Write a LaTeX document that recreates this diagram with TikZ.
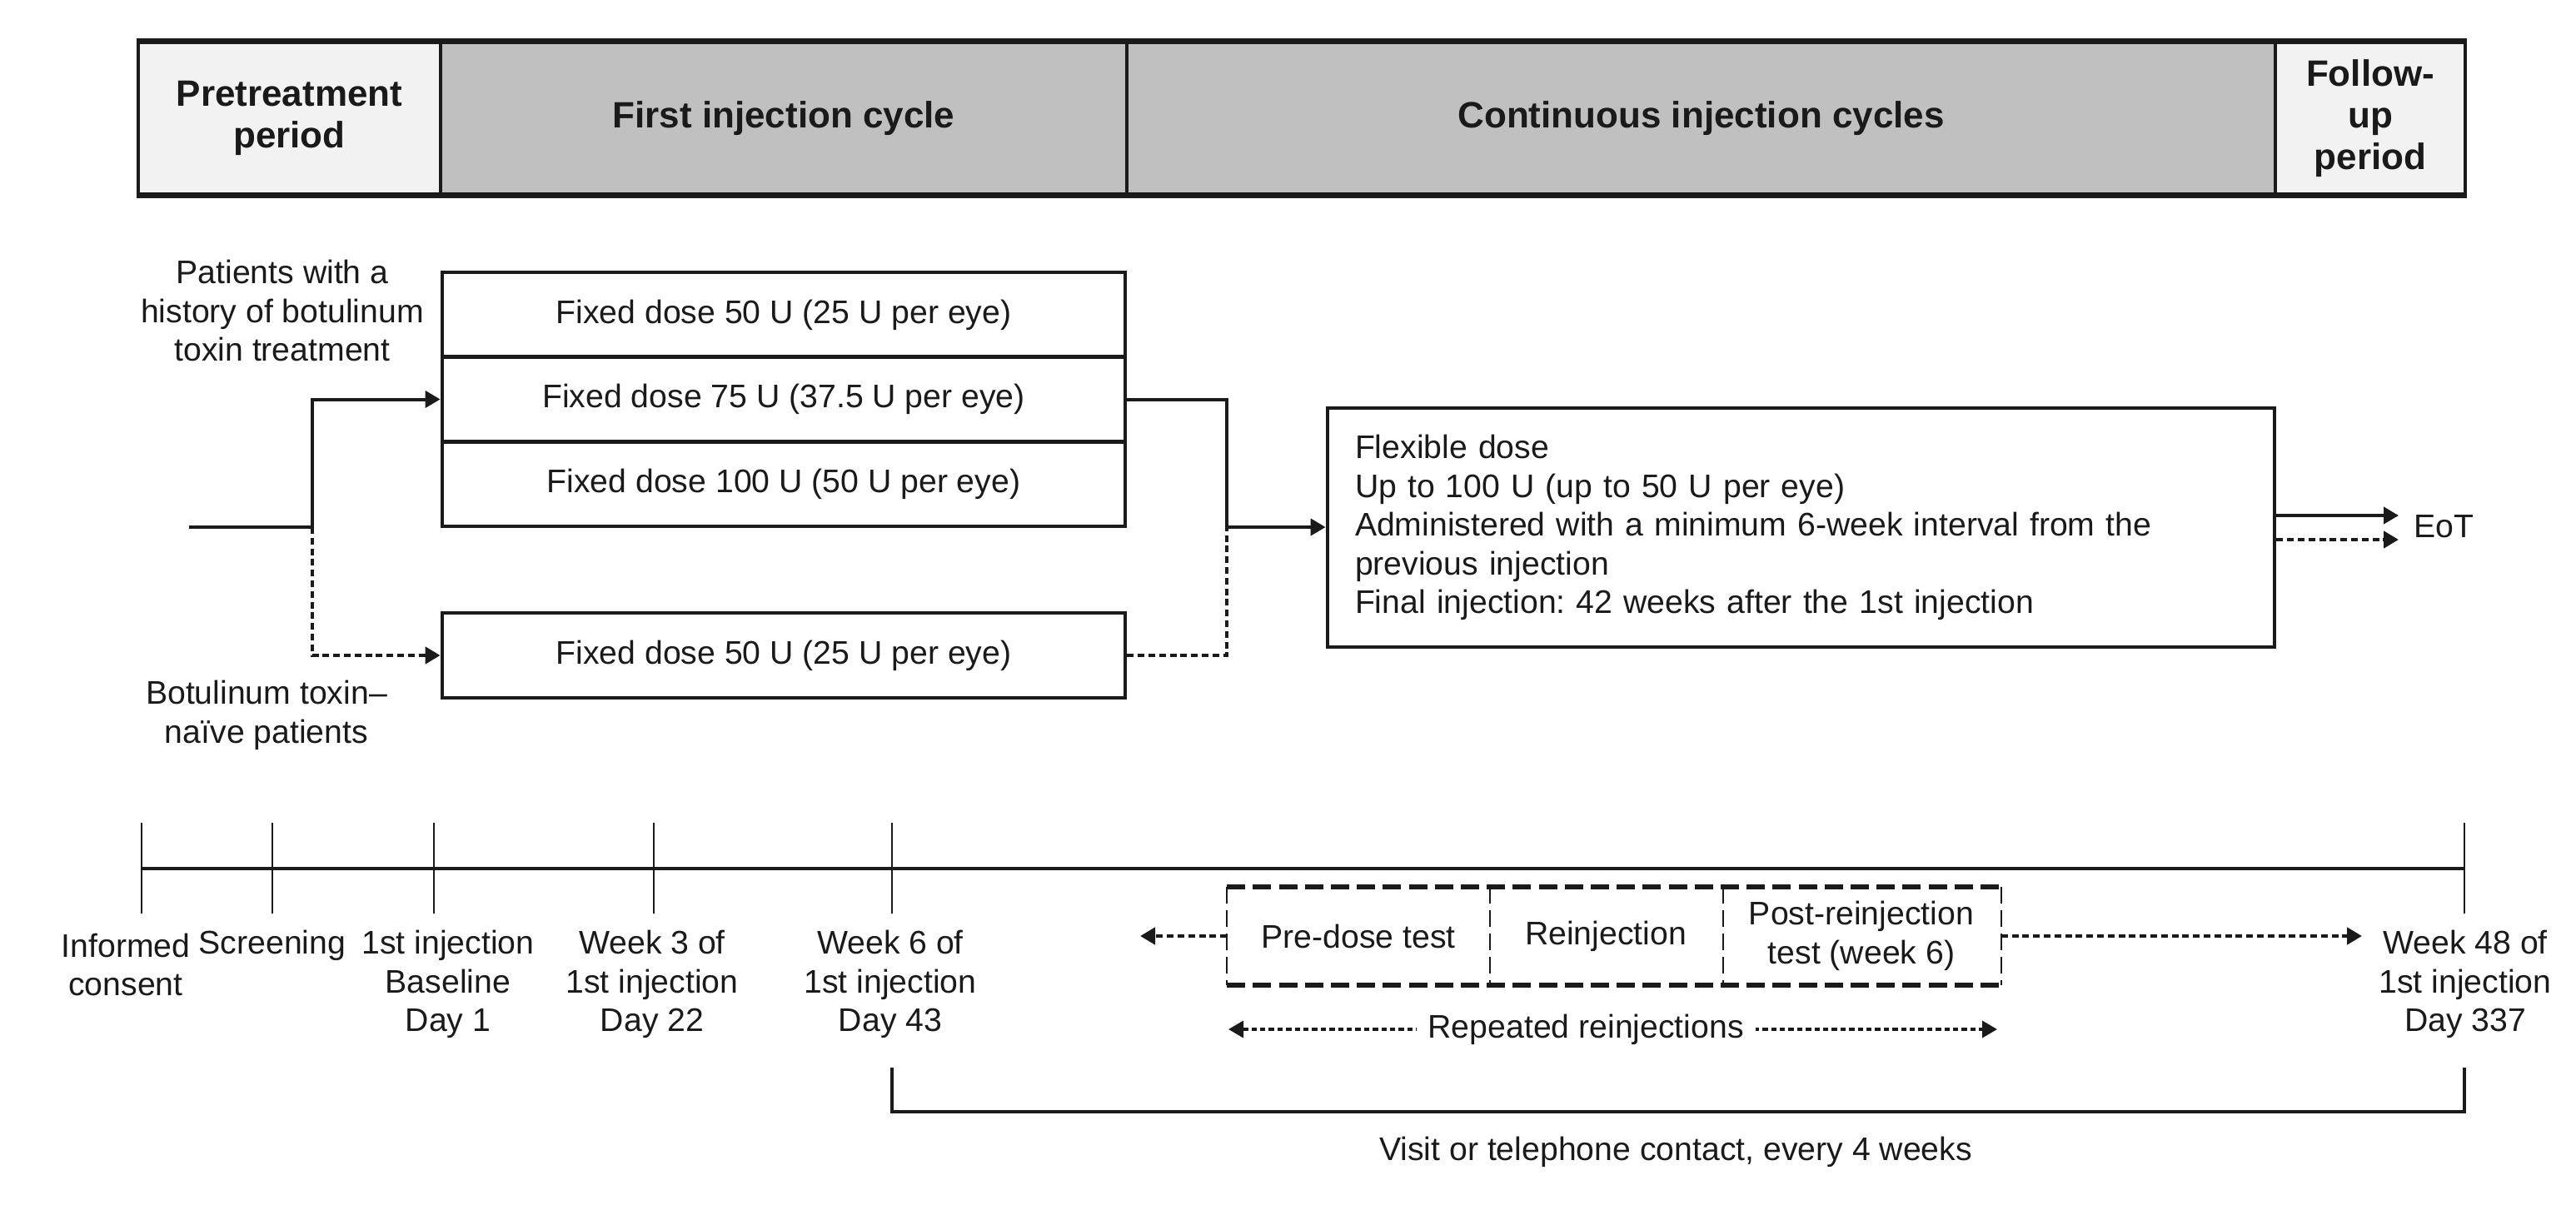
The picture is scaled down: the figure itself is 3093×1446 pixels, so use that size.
\documentclass[tikz,border=0pt]{standalone}
\usepackage{fontspec}
\setmainfont{Liberation Sans}
\usetikzlibrary{arrows.meta}
\definecolor{hdrlight}{HTML}{F2F2F2}
\definecolor{hdrdark}{HTML}{C0C0C0}
\definecolor{ink}{HTML}{1A1A1A}
\frenchspacing
\begin{document}
\begin{tikzpicture}[x=0.25pt,y=-0.25pt,
  font=\fontsize{9.8pt}{11.6pt}\selectfont, text=ink, draw=ink,
  tip/.style={-{Triangle[length=4.5pt,width=5pt]}},
  conn/.style={line width=1pt},
  dots/.style={line width=1.2pt,dash pattern=on 2pt off 1.2pt},
  fdots/.style={line width=0.9pt,dash pattern=on 1.6pt off 1pt},
  hdr/.style={draw,line width=0.8pt,minimum height=45.5pt,inner sep=0pt,
    font=\fontsize{11pt}{12.5pt}\selectfont\bfseries,align=center},
  dosebox/.style={draw,line width=1.2pt,minimum width=205pt,minimum height=25.5pt,inner sep=0pt},
  lbl/.style={align=center,inner sep=0pt},
  tick/.style={line width=0.6pt},
  dtop/.style={line width=1.5pt,dash pattern=on 5.5pt off 2.3pt},
  dside/.style={line width=0.6pt,dash pattern=on 5pt off 2pt},
  part/.style={minimum height=29pt,inner sep=0pt,align=center},
]
\path[use as bounding box] (0,0) rectangle (3093,1446);

% header
\node[hdr,fill=hdrlight,minimum width=90.75pt] (h1) at (347.5,142) {Pretreatment\\period};
\node[hdr,fill=hdrdark,minimum width=206pt] (h2) at (941,142) {First injection cycle};
\node[hdr,fill=hdrdark,minimum width=344.75pt] (h3) at (2042.5,142) {Continuous injection cycles};
\node[hdr,fill=hdrlight,minimum width=57pt] (h4) at (2846,142) {Follow-\\up\\period};
\draw[line width=1.6pt] (h1.north west) -- (h4.north east);
\draw[line width=1.6pt] (h1.south west) -- (h4.south east);

% dose boxes
\node[dosebox] (d1) at (941,378) {Fixed dose 50 U (25 U per eye)};
\node[dosebox] (d2) at (941,479.5) {Fixed dose 75 U (37.5 U per eye)};
\node[dosebox] (d3) at (941,581) {Fixed dose 100 U (50 U per eye)};
\node[dosebox] (d4) at (941,787) {Fixed dose 50 U (25 U per eye)};

\node[draw,line width=1.2pt,minimum width=284.25pt,minimum height=71.75pt,
  text width=267.75pt,align=left,inner sep=0pt] (flex) at (2162.5,633.5)
  {Flexible dose\\Up to 100 U (up to 50 U per eye)\\Administered with a minimum 6-week interval from the\\previous injection\\Final injection: 42 weeks after the 1st injection};

\node[lbl] (lhist) at (339,373) {Patients with a\\history of botulinum\\toxin treatment};
\node[lbl] (lnaive) at (320,859) {Botulinum toxin–\\naïve patients};

\coordinate (s) at (227,633);
\coordinate (b) at (375,633);
\coordinate (j) at (1473,633);
\draw[conn,tip] (s) -- (b) |- (d2.west);
\draw[dots,tip] (b) |- (d4.west);
\draw[conn,tip] (d2.east) -| (j) -- (flex.west |- j);
\draw[dots] (d4.east) -| (j);

\coordinate (e1) at (2880,619);
\coordinate (e2) at (2880,648);
\draw[conn,tip] (flex.east |- e1) -- (e1);
\draw[dots,tip] (flex.east |- e2) -- (e2);
\node[anchor=west,inner sep=0pt] (eot) at (2898,632) {EoT};

% timeline
\coordinate (t1) at (170,1043);
\coordinate (t2) at (327,1043);
\coordinate (t3) at (521,1043);
\coordinate (t4) at (785,1043);
\coordinate (t5) at (1071,1043);
\coordinate (t6) at (2959,1043);
\draw[line width=1.1pt] (t1) -- (t6);
\foreach \t in {t1,t2,t3,t4,t5,t6}
  \draw[tick] ([yshift=13.75pt]\t) -- ([yshift=-13.5pt]\t);

\node[lbl] (l1) at (151,1158.5) {Informed\\consent};
\node[lbl] (l2) at (327,1135) {Screening};
\node[lbl] (l3) at (538,1182) {1st injection\\Baseline\\Day 1};
\node[lbl] (l4) at (783,1182) {Week 3 of\\1st injection\\Day 22};
\node[lbl] (l5) at (1069,1182) {Week 6 of\\1st injection\\Day 43};
\node[lbl] (l6) at (2960,1182) {Week 48 of\\1st injection\\Day 337};

% dashed cycle box
\node[part,minimum width=78.5pt] (p1) at (1631,1124) {Pre-dose test};
\node[part,minimum width=70pt] (p2) at (1928,1124) {Reinjection};
\node[part,minimum width=83.5pt] (p3) at (2235,1124) {Post-reinjection\\test (week 6)};
\draw[dtop] (p1.north west) -- (p3.north east);
\draw[dtop] (p1.south west) -- (p3.south east);
\draw[dside] (p1.north west) -- (p1.south west);
\draw[dside] (p1.north east) -- (p1.south east);
\draw[dside] (p2.north east) -- (p2.south east);
\draw[dside] (p3.north east) -- (p3.south east);

\coordinate (la) at (1369,1124);
\coordinate (ra) at (2836,1124);
\draw[dots,tip] (p1.west) -- (la);
\draw[dots,tip] (p3.east) -- (ra);

\coordinate (r1) at (1475,1236);
\coordinate (r2) at (2398,1236);
\draw[fdots,{Triangle[length=4.5pt,width=5pt]}-{Triangle[length=4.5pt,width=5pt]}]
  (r1) -- node[fill=white,inner xsep=3.5pt,inner ysep=1pt,pos=0.465] (rep) {Repeated reinjections} (r2);

% bracket
\coordinate (bl0) at (1071,1282);
\coordinate (bl) at (1071,1335);
\coordinate (br) at (2959,1335);
\coordinate (br0) at (2959,1282);
\draw[line width=1.2pt] (bl0) -- (bl) -- (br) -- (br0);
\node[inner sep=0pt] (visit) at (2012,1383) {Visit or telephone contact, every 4 weeks};
\end{tikzpicture}
\end{document}
